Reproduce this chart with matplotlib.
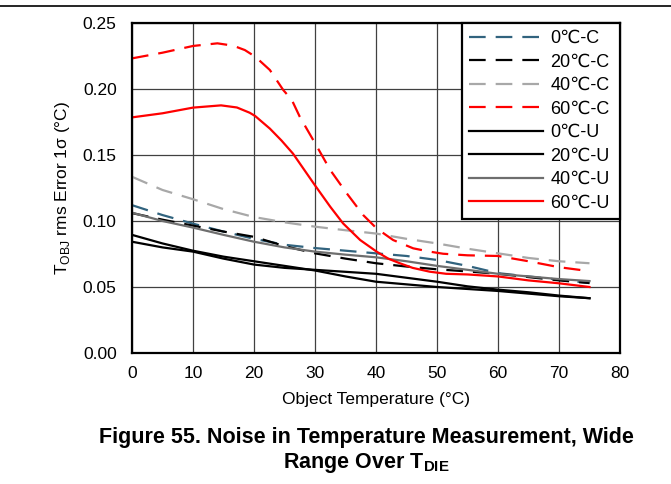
import matplotlib
matplotlib.use('Agg')
import matplotlib.pyplot as plt
from matplotlib.lines import Line2D

plt.rcParams['font.family'] = ['Liberation Sans', 'DejaVu Sans']
plt.rcParams['mathtext.fontset'] = 'custom'
plt.rcParams['mathtext.rm'] = 'Liberation Sans'
plt.rcParams['mathtext.bf'] = 'Liberation Sans:bold'

# 读图数据 (Object Temperature, °C)
x_grid = [0, 5, 10, 15, 20, 25, 30, 35, 40, 45, 50, 55, 60, 65, 70, 75]
c0 = [0.112, 0.1045, 0.098, 0.092, 0.0865, 0.082, 0.0795, 0.0775, 0.0755, 0.0735, 0.0705, 0.066, 0.0605, 0.058, 0.0555, 0.053]
c20 = [0.106, 0.101, 0.0965, 0.092, 0.088, 0.081, 0.0755, 0.0715, 0.068, 0.0655, 0.0634, 0.0618, 0.060, 0.0575, 0.055, 0.053]
c40 = [0.1335, 0.1235, 0.1165, 0.109, 0.103, 0.099, 0.0957, 0.093, 0.0905, 0.0865, 0.083, 0.079, 0.0755, 0.072, 0.0695, 0.068]
u0 = [0.0895, 0.083, 0.0775, 0.073, 0.0695, 0.066, 0.0625, 0.058, 0.054, 0.052, 0.050, 0.0485, 0.047, 0.045, 0.043, 0.0415]
u20 = [0.0843, 0.080, 0.0768, 0.0715, 0.067, 0.0645, 0.063, 0.0615, 0.060, 0.057, 0.054, 0.0505, 0.048, 0.046, 0.0435, 0.0415]
u40 = [0.1063, 0.100, 0.095, 0.0895, 0.0843, 0.080, 0.0768, 0.0745, 0.0725, 0.0695, 0.066, 0.063, 0.060, 0.058, 0.056, 0.0545]

x_c60 = [0, 5, 10, 14, 16.6, 18.5, 20.2, 22.6, 24.8, 26.2, 27.5, 30, 32.5, 35.2, 37.9, 40.1,
         42.8, 46.1, 48.8, 51, 55, 60, 65, 70, 75]
c60 = [0.2232, 0.2275, 0.2326, 0.2346, 0.2328, 0.2295, 0.2245, 0.2144, 0.1992, 0.1917, 0.179, 0.159, 0.1386, 0.121, 0.1045, 0.0944,
       0.0856, 0.0793, 0.0768, 0.0752, 0.074, 0.0735, 0.0695, 0.065, 0.062]
x_u60 = [0, 5, 10, 14.6, 17.2, 19.3, 20.2, 22.6, 24.5, 26.4, 30, 32.5, 34.6, 37.4, 40.1, 42, 43.9,
         46, 48.8, 51.5, 55, 60, 65, 70, 75]
u60 = [0.1785, 0.1816, 0.1859, 0.1876, 0.186, 0.182, 0.1795, 0.170, 0.161, 0.151, 0.127, 0.1108, 0.0982, 0.0856, 0.0768, 0.0715, 0.068,
       0.0645, 0.0616, 0.060, 0.0595, 0.058, 0.055, 0.0528, 0.050]

labels = ['0℃-C', '20℃-C', '40℃-C', '60℃-C', '0℃-U', '20℃-U', '40℃-U', '60℃-U']

fig = plt.figure(figsize=(6.71, 4.84), dpi=100)
ax = fig.add_axes([132 / 671, 1 - 353 / 484, 488 / 671, 330 / 484])

dash = (7.5, 4.5)
lw = 1.6
ax.plot(x_grid, c0, color='#31637e', lw=lw, dashes=dash, label=labels[0])
ax.plot(x_grid, c20, color='black', lw=lw, dashes=dash, label=labels[1])
ax.plot(x_grid, c40, color='#a8a8a8', lw=lw, dashes=dash, label=labels[2])
ax.plot(x_c60, c60, color='#ff0000', lw=lw, dashes=dash, label=labels[3])
ax.plot(x_grid, u0, color='black', lw=lw, label=labels[4])
ax.plot(x_grid, u20, color='black', lw=lw, label=labels[5])
ax.plot(x_grid, u40, color='#6e6e6e', lw=lw, label=labels[6])
ax.plot(x_u60, u60, color='#ff0000', lw=lw, label=labels[7])

ax.set_xlim(0, 80)
ax.set_ylim(0, 0.25)
ax.set_xticks(range(0, 81, 10))
ax.set_yticks([0, 0.05, 0.10, 0.15, 0.20, 0.25])
ax.set_yticklabels(['0.00', '0.05', '0.10', '0.15', '0.20', '0.25'])
ax.tick_params(length=0, labelsize=12.5)
ax.tick_params(axis='y', pad=11)
ax.tick_params(axis='x', pad=9)
ax.grid(True, color='#404040', lw=0.9)
ax.set_axisbelow(True)
for s in ax.spines.values():
    s.set_linewidth(1.6)
    s.set_color('black')

ax.set_xlabel('Object Temperature (°C)', fontsize=12.5, labelpad=8)
ax.set_ylabel(r'T$_{\mathregular{OBJ}}$ rms Error 1σ (°C)', fontsize=12.5, labelpad=8)

leg = ax.legend(loc='upper left', bbox_to_anchor=(330 / 488, 0, 158 / 488, 1),
                mode='expand', borderaxespad=0,
                fontsize=13, handlelength=4.1, handletextpad=0.4,
                labelspacing=0.36, fancybox=False, framealpha=1,
                edgecolor='black', borderpad=0.4)
leg.get_frame().set_linewidth(1.6)

fig.text(366 / 671, 1 - 438 / 484, 'Figure 55. Noise in Temperature Measurement, Wide',
         ha='center', va='center', fontsize=15.5, fontweight='bold')
fig.text(366 / 671, 1 - 463 / 484, r'Range Over $\mathbf{T_{DIE}}$',
         ha='center', va='center', fontsize=15.5, fontweight='bold')

fig.add_artist(Line2D([0, 1], [1 - 6 / 484, 1 - 6 / 484], color='black', lw=1.2))

fig.savefig('out.png', dpi=100)
